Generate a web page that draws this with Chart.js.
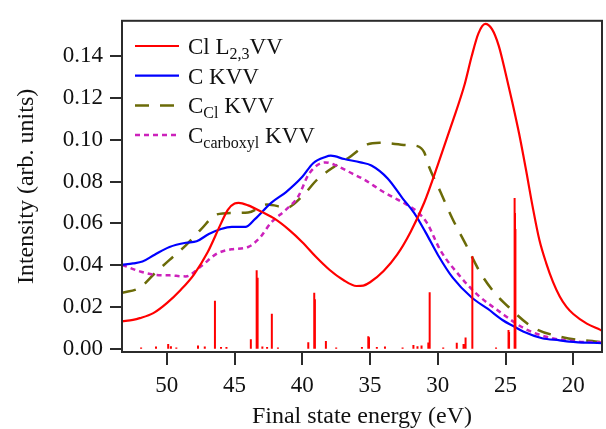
<!DOCTYPE html>
<html>
<head>
<meta charset="utf-8">
<script src="https://cdn.jsdelivr.net/npm/chart.js@4/dist/chart.umd.min.js"></script>
<style>
  html, body { margin: 0; padding: 0; background: #fff; }
</style>
</head>
<body>
<canvas id="chart" width="606" height="429"></canvas>
<script>
'use strict';

// Cl L2,3VV (red)
var clE = [53.3, 52.5, 52, 51, 50, 49, 48, 47, 46, 45.5, 45, 44.7, 44, 43, 42, 41, 40, 39, 38, 37, 36, 35.5, 35, 34, 33, 32, 31, 30, 29, 28, 27.5, 27, 26.5, 26, 25.5, 25, 24.5, 24, 23.5, 23, 22.5, 22, 21.5, 21, 20.5, 20, 19, 18, 17.88];
var clI = [0.0131, 0.0138, 0.0146, 0.0170, 0.0218, 0.0280, 0.0355, 0.0460, 0.0600, 0.0665, 0.0695, 0.0698, 0.0686, 0.0655, 0.0620, 0.0570, 0.0510, 0.0440, 0.0378, 0.0330, 0.0300, 0.0302, 0.0318, 0.0372, 0.0450, 0.0560, 0.0700, 0.0880, 0.1070, 0.1270, 0.1400, 0.1510, 0.1555, 0.1530, 0.1450, 0.1320, 0.1180, 0.1030, 0.0860, 0.0680, 0.0520, 0.0410, 0.0320, 0.0250, 0.0200, 0.0166, 0.0120, 0.0090, 0.0086];

// C KVV (blue)
var ckE = [53.3, 52.5, 51.8, 50.9, 49.8, 48.6, 47.8, 46.9, 46, 45.2, 44.2, 43.5, 42.3, 41.2, 40, 39.2, 38.3, 37.9, 36.9, 35.7, 34.9, 33.7, 32.6, 31.75, 30.9, 30, 28.9, 27.5, 26.3, 25.2, 24.4, 23.7, 22.3, 21, 20.3, 17.88];
var ckI = [0.0401, 0.0408, 0.0417, 0.0450, 0.0487, 0.0507, 0.0514, 0.0549, 0.0573, 0.0583, 0.0583, 0.0620, 0.0698, 0.0750, 0.0823, 0.0888, 0.0918, 0.0924, 0.0908, 0.0892, 0.0877, 0.0815, 0.0720, 0.0650, 0.0557, 0.0450, 0.0340, 0.0245, 0.0190, 0.0136, 0.0107, 0.0082, 0.0050, 0.0040, 0.0034, 0.0026];

// C_Cl KVV (olive, dashed)
var cclE = [53.3, 52, 50.9, 49.8, 48.6, 47.5, 46.3, 45.2, 44, 42.6, 41.5, 41.2, 40, 38.9, 37.7, 36.6, 35.2, 34.3, 32.3, 31.5, 31, 30.7, 29.8, 28.9, 27.9, 26.9, 25.9, 24.7, 23, 20.8, 17.88];
var cclI = [0.0268, 0.0292, 0.0360, 0.0425, 0.0495, 0.0570, 0.0643, 0.0650, 0.0652, 0.0690, 0.0678, 0.0674, 0.0730, 0.0810, 0.0869, 0.0913, 0.0978, 0.0986, 0.0975, 0.0970, 0.0940, 0.0880, 0.0750, 0.0620, 0.0495, 0.0368, 0.0275, 0.0195, 0.0103, 0.0055, 0.0031];

// C_carboxyl KVV (magenta, dotted)
var ccarbE = [53.3, 52, 50.9, 49.8, 48.6, 47.5, 46.3, 45.2, 44, 43.1, 42.3, 41.2, 40.3, 39.5, 38.3, 37.5, 36.3, 35.5, 34, 33, 32.3, 31.5, 30.8, 29.8, 28.4, 27.1, 25.4, 23.7, 22, 19.7, 17.88];
var ccarbI = [0.0401, 0.0370, 0.0354, 0.0351, 0.0346, 0.0393, 0.0455, 0.0476, 0.0487, 0.0534, 0.0604, 0.0666, 0.0729, 0.0838, 0.0892, 0.0877, 0.0838, 0.0812, 0.0750, 0.0715, 0.0690, 0.0655, 0.0602, 0.0470, 0.0350, 0.0260, 0.0175, 0.0100, 0.0057, 0.0034, 0.0030];

// stick spectrum (red vertical lines)
var stickE = [51.9, 50.8, 49.9, 49.7, 49.3, 47.7, 47.2, 46.45, 46.0, 45.6, 43.8, 43.37, 43.3, 42.95, 42.6, 42.25, 41.8, 39.56, 39.12, 39.07, 38.26, 37.5, 35.6, 35.13, 35.08, 34.5, 33.9, 32.6, 31.8, 31.5, 31.2, 30.7, 30.6, 29.6, 28.6, 28.1, 27.95, 27.45, 25.7, 24.78, 24.74, 24.33, 24.3, 24.27];
var stickI = [0.0005, 0.0010, 0.0022, 0.0012, 0.0005, 0.0015, 0.0010, 0.0230, 0.0008, 0.0008, 0.0045, 0.0375, 0.0340, 0.0010, 0.0008, 0.0167, 0.0005, 0.0031, 0.0268, 0.0237, 0.0037, 0.0005, 0.0008, 0.0060, 0.0055, 0.0008, 0.0010, 0.0005, 0.0017, 0.0012, 0.0015, 0.0030, 0.0270, 0.0005, 0.0028, 0.0022, 0.0053, 0.0443, 0.0005, 0.0089, 0.0080, 0.0721, 0.0650, 0.0573];

var xTicks = [50, 45, 40, 35, 30, 25, 20];
var yTicks = [0, 0.02, 0.04, 0.06, 0.08, 0.10, 0.12, 0.14];

// legend text: [normal, subscript, normal]
var legendText = [
  ['Cl L', '2,3', 'VV'],
  ['C KVV', '', ''],
  ['C', 'Cl', ' KVV'],
  ['C', 'carboxyl', ' KVV']
];

var serif = "'Liberation Serif', 'Times New Roman', serif";
var axisColor = '#2b2b2b';

function points(xs, ys) {
  var out = [];
  for (var i = 0; i < xs.length; i++) {
    out.push({x: xs[i], y: ys[i]});
  }
  return out;
}

function sticks(xs, ys) {
  var out = [];
  for (var i = 0; i < xs.length; i++) {
    out.push({x: xs[i], y: 0});
    out.push({x: xs[i], y: ys[i]});
    out.push({x: xs[i], y: null});
  }
  return out;
}

var boxPlugin = {
  id: 'box',
  afterDraw: function(chart) {
    var ctx = chart.ctx;
    var a = chart.chartArea;
    ctx.save();
    ctx.strokeStyle = axisColor;
    ctx.lineWidth = 2;
    ctx.strokeRect(a.left, a.top, a.right - a.left, a.bottom - a.top);
    ctx.restore();
  }
};

var legendPlugin = {
  id: 'subLegend',
  afterDraw: function(chart) {
    var ctx = chart.ctx;
    ctx.save();
    for (var i = 0; i < legendText.length; i++) {
      var ds = chart.data.datasets[i];
      var y = 46 + i * 29.7;
      ctx.strokeStyle = ds.borderColor;
      ctx.lineWidth = ds.borderWidth;
      ctx.setLineDash(ds.borderDash || []);
      ctx.beginPath();
      ctx.moveTo(135, y);
      ctx.lineTo(179, y);
      ctx.stroke();
      ctx.setLineDash([]);

      var parts = legendText[i];
      var x = 188;
      ctx.fillStyle = '#111';
      ctx.textBaseline = 'alphabetic';
      ctx.textAlign = 'left';
      ctx.font = '23px ' + serif;
      ctx.fillText(parts[0], x, y + 8);
      x += ctx.measureText(parts[0]).width;
      if (parts[1]) {
        ctx.font = '16px ' + serif;
        ctx.fillText(parts[1], x, y + 13);
        x += ctx.measureText(parts[1]).width;
      }
      if (parts[2]) {
        ctx.font = '23px ' + serif;
        ctx.fillText(parts[2], x, y + 8);
      }
    }
    ctx.restore();
  }
};

var ctx = document.getElementById('chart').getContext('2d');
var myChart = new Chart(ctx, {
  type: 'line',
  data: {
    datasets: [{
      label: 'Cl L2,3VV',
      data: points(clE, clI),
      borderColor: '#ff0000',
      borderWidth: 2.2,
      cubicInterpolationMode: 'monotone',
      order: 1
    }, {
      label: 'C KVV',
      data: points(ckE, ckI),
      borderColor: '#0000ff',
      borderWidth: 2.2,
      cubicInterpolationMode: 'monotone',
      order: 2
    }, {
      label: 'CCl KVV',
      data: points(cclE, cclI),
      borderColor: '#6b6b08',
      borderWidth: 2.5,
      borderDash: [14, 11],
      cubicInterpolationMode: 'monotone',
      order: 4
    }, {
      label: 'Ccarboxyl KVV',
      data: points(ccarbE, ccarbI),
      borderColor: '#cc22bb',
      borderWidth: 2.5,
      borderDash: [5, 4],
      cubicInterpolationMode: 'monotone',
      order: 3
    }, {
      label: 'sticks',
      data: sticks(stickE, stickI),
      borderColor: '#ff0000',
      borderWidth: 2,
      spanGaps: false,
      tension: 0,
      order: 0
    }]
  },
  options: {
    responsive: false,
    animation: false,
    elements: {
      point: { radius: 0 },
      line: { fill: false }
    },
    layout: {
      padding: { left: 0, right: 4, top: 14, bottom: 0 }
    },
    plugins: {
      legend: { display: false },
      tooltip: { enabled: false }
    },
    scales: {
      x: {
        type: 'linear',
        reverse: true,
        min: 17.88,
        max: 53.31,
        afterBuildTicks: function(scale) {
          scale.ticks = xTicks.map(function(v) { return {value: v}; });
        },
        afterFit: function(scale) { scale.height = 77; },
        grid: {
          drawOnChartArea: false,
          tickLength: 13,
          color: axisColor,
          lineWidth: 2
        },
        border: { display: true, color: axisColor, width: 2 },
        ticks: {
          autoSkip: false,
          maxRotation: 0,
          padding: 7,
          color: '#111',
          font: { family: serif, size: 23 },
          callback: function(v) { return String(v); }
        },
        title: {
          display: true,
          text: 'Final state energy (eV)',
          color: '#111',
          font: { family: serif, size: 24 },
          padding: { top: 0, bottom: -2 }
        }
      },
      y: {
        type: 'linear',
        min: -0.0016,
        max: 0.157,
        afterBuildTicks: function(scale) {
          scale.ticks = yTicks.map(function(v) { return {value: v}; });
        },
        afterFit: function(scale) { scale.width = 122; },
        grid: {
          drawOnChartArea: false,
          tickLength: 12,
          color: axisColor,
          lineWidth: 2
        },
        border: { display: true, color: axisColor, width: 2 },
        ticks: {
          autoSkip: false,
          padding: 7,
          color: '#111',
          font: { family: serif, size: 23 },
          callback: function(v) { return v.toFixed(2); }
        },
        title: {
          display: true,
          text: 'Intensity (arb. units)',
          color: '#111',
          font: { family: serif, size: 24 },
          padding: { top: 12, bottom: 0 }
        }
      }
    }
  },
  plugins: [boxPlugin, legendPlugin]
});
</script>
</body>
</html>
